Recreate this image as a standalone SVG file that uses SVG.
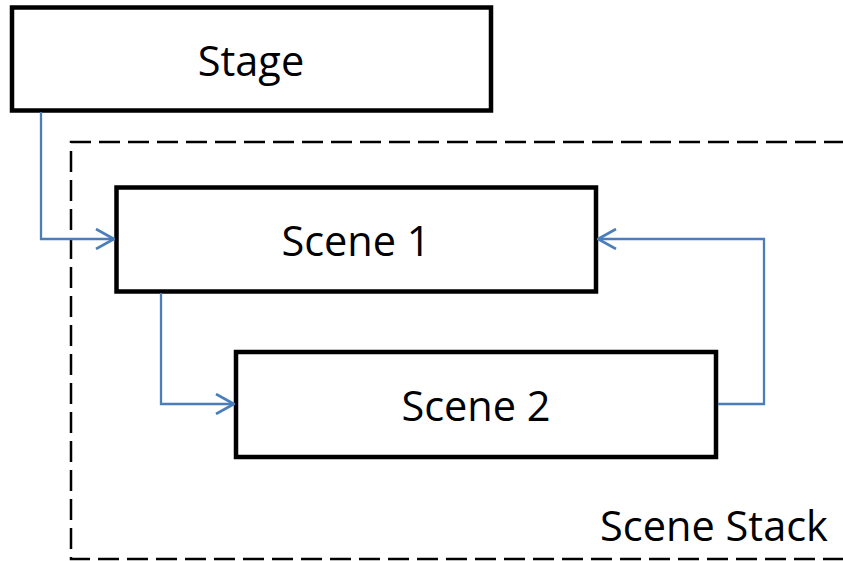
<svg xmlns="http://www.w3.org/2000/svg" width="843" height="561" viewBox="0 0 843 561">
<defs>
<style>
.node{fill:#ffffff;stroke:#000000;stroke-width:4.5}
.lbl{font-family:"Open Sans","Noto Sans",sans-serif;font-size:41.5px;fill:#000000;text-anchor:middle}
.conn{fill:none;stroke:#4a7ebb;stroke-width:2.3}
</style>
<marker id="arr" viewBox="0 0 20 22" refX="19" refY="11" markerWidth="20" markerHeight="22" markerUnits="userSpaceOnUse" orient="auto">
<path d="M1,1 L19,11 L1,21" fill="none" stroke="#4a7ebb" stroke-width="2.6"/>
</marker>
</defs>
<rect width="843" height="561" fill="#ffffff"/>
<g id="scene-stack">
<path d="M845,142 L71,142 L71,559 L845,559" fill="none" stroke="#000000" stroke-width="2.5" stroke-dasharray="21,8"/>
<text class="lbl" x="714" y="541">Scene Stack</text>
</g>
<g id="stage">
<rect class="node" x="12" y="7.5" width="479" height="103"/>
<text class="lbl" x="251" y="76">Stage</text>
</g>
<g id="scene1">
<rect class="node" x="116.5" y="187.5" width="479.5" height="104"/>
<text class="lbl" x="356" y="256">Scene 1</text>
</g>
<g id="scene2">
<rect class="node" x="236" y="352" width="480" height="105"/>
<text class="lbl" x="476" y="421">Scene 2</text>
</g>
<g id="connectors">
<path class="conn" d="M41,112 L41,239 L114,239" marker-end="url(#arr)"/>
<path class="conn" d="M161,293 L161,404 L234,404" marker-end="url(#arr)"/>
<path class="conn" d="M718,404 L764,404 L764,239 L598,239" marker-end="url(#arr)"/>
</g>
</svg>
